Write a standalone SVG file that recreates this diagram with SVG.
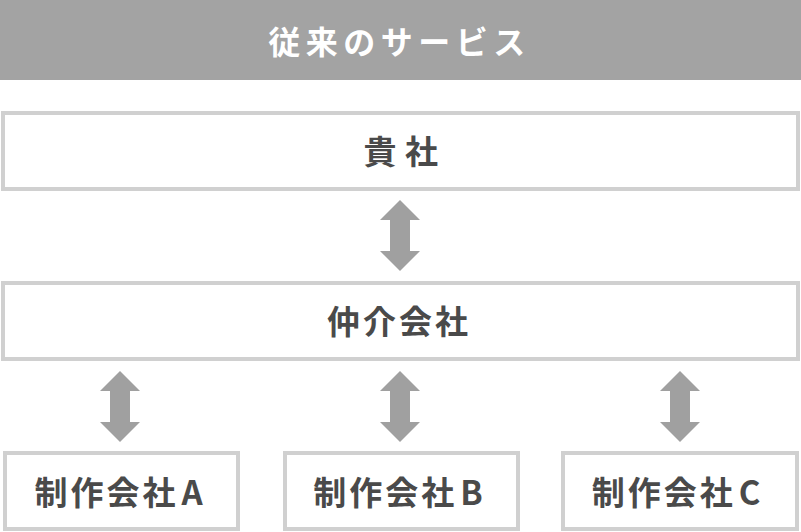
<svg xmlns="http://www.w3.org/2000/svg" width="801" height="532" viewBox="0 0 801 532">
<defs>
<style>
.box{fill:#ffffff;stroke:#d0d0d0;stroke-width:4}
.lbl{font-family:"Noto Sans CJK JP","Noto Sans",sans-serif;font-weight:700;font-size:33px;fill:#4a4a4a;letter-spacing:3px;text-anchor:middle;dominant-baseline:central}
.hdr{font-family:"Noto Sans CJK JP","Noto Sans",sans-serif;font-weight:700;font-size:32px;fill:#ffffff;letter-spacing:5.5px;text-anchor:middle;dominant-baseline:central}
.arr{fill:#a0a0a0}
</style>
<path id="dbl" d="M0,0 L20,20 L10,20 L10,51 L20,51 L0,71 L-20,51 L-10,51 L-10,20 L-20,20 Z"/>
</defs>
<g id="header">
<rect x="0" y="0" width="801" height="80" fill="#a3a3a3"/>
<text class="hdr" x="399.5" y="40">従来のサービス</text>
</g>
<g id="kisha">
<rect class="box" x="3" y="113" width="795" height="76"/>
<text class="lbl" x="405" y="150" style="letter-spacing:8.5px">貴社</text>
</g>
<g id="chukai">
<rect class="box" x="3" y="283" width="795" height="76"/>
<text class="lbl" x="399" y="320">仲介会社</text>
</g>
<g id="seisakuA">
<rect class="box" x="5" y="453" width="233" height="76"/>
<text class="lbl" x="120" y="491">制作会社<tspan dx="3">A</tspan></text>
</g>
<g id="seisakuB">
<rect class="box" x="285" y="453" width="233" height="76"/>
<text class="lbl" x="399.5" y="491">制作会社<tspan dx="3">B</tspan></text>
</g>
<g id="seisakuC">
<rect class="box" x="563" y="453" width="234" height="76"/>
<text class="lbl" x="677.5" y="491">制作会社<tspan dx="3">C</tspan></text>
</g>
<g id="connectors">
<use href="#dbl" class="arr" x="400" y="200"/>
<use href="#dbl" class="arr" x="120" y="371"/>
<use href="#dbl" class="arr" x="400" y="371"/>
<use href="#dbl" class="arr" x="680" y="371"/>
</g>
</svg>
